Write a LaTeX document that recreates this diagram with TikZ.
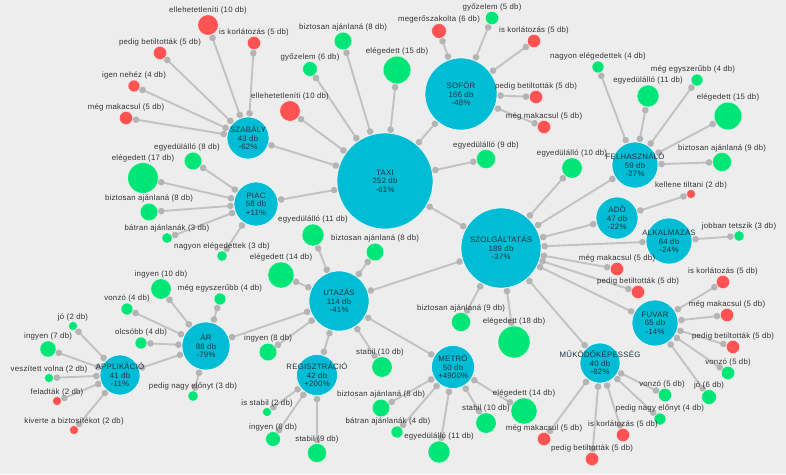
\documentclass[tikz,border=0pt]{standalone}
\usepackage{fontspec}
\setmainfont{Liberation Sans}[LetterSpace=3]
\usetikzlibrary{arrows.meta}
\definecolor{bgc}{HTML}{EDEDED}
\definecolor{cyanc}{HTML}{00BCD4}
\definecolor{greenc}{HTML}{00E676}
\definecolor{redc}{HTML}{FF5252}
\definecolor{edgec}{HTML}{C2C2C2}
\definecolor{dotc}{HTML}{B4B4B4}
\definecolor{txtc}{HTML}{333333}
\definecolor{hubtxt}{HTML}{1E3440}
\pgfdeclarelayer{bgl}
\pgfsetlayers{bgl,main}
\tikzset{
  leafn/.style={circle, inner sep=0pt, draw=white, draw opacity=0.6, line width=0.5pt},
  hubn/.style={circle, inner sep=0pt, fill=cyanc, draw=white, draw opacity=0.8, line width=0.7pt},
  hubt/.style={inner sep=0pt, align=center, text=hubtxt, font=\fontsize{7.8}{8.4}\selectfont},
  lbl/.style={inner sep=0pt, text=txtc, font=\fontsize{7.8}{8.4}\selectfont},
  lnk/.style={draw=edgec, line width=1.9pt, {Circle[length=6.5pt,width=6.5pt,color=dotc]}-{Circle[length=6.5pt,width=6.5pt,color=dotc]}}
}
\newcommand\mkleaf[7][0]{%
  \pgfmathsetmacro\rr{2*(3+0.72*#4)}%
  \node[leafn, fill=#3, minimum size=\rr pt] (#2) at (#5,#6) {};%
  \node[lbl, anchor=base] (#2t) at ([yshift=2pt,xshift=#1pt]#2.north) {#7};%
}
\newcommand\mkhub[5]{%
  \node[hubn, minimum size=#4*2pt] (#1) at (#2,#3) {};%
  \node[hubt] (#1t) at (#1) {#5};%
}
\newcommand\lk[2]{\draw[lnk] (#1) -- (#2);}
\begin{document}
\begin{tikzpicture}[x=1pt,y=-1pt]
\begin{pgfonlayer}{bgl}
\fill[bgc] (0,0) rectangle (786,474);
\end{pgfonlayer}
\useasboundingbox (0,0) rectangle (786,474);
% hubs
\mkhub{taxi}{385}{181}{48}{TAXI\\252 db\\-61\%}
\mkhub{sofor}{461}{94}{36}{SOFŐR\\166 db\\-48\%}
\mkhub{szolg}{501}{248}{40}{SZOLGÁLTATÁS\\189 db\\-37\%}
\mkhub{szabaly}{248}{138}{21}{SZABÁLY\\43 db\\-62\%}
\mkhub{piac}{256}{204}{22}{PIAC\\58 db\\+11\%}
\mkhub{utazas}{339}{301}{30}{UTAZÁS\\114 db\\-41\%}
\mkhub{ar}{206}{346}{24}{ÁR\\88 db\\-79\%}
\mkhub{appl}{120}{375}{20}{APPLIKÁCIÓ\\41 db\\-11\%}
\mkhub{regisz}{317}{375}{20.5}{REGISZTRÁCIÓ\\42 db\\+200\%}
\mkhub{metro}{453}{367}{21.5}{METRÓ\\50 db\\+4900\%}
\mkhub{mukodo}{600}{363}{20}{MŰKÖDŐKÉPESSÉG\\40 db\\-82\%}
\mkhub{fuvar}{655}{323}{23}{FUVAR\\65 db\\-14\%}
\mkhub{alk}{669}{241}{23}{ALKALMAZÁS\\64 db\\-24\%}
\mkhub{ado}{617}{218}{21}{ADÓ\\47 db\\-22\%}
\mkhub{felh}{635}{165}{23}{FELHASZNÁLÓ\\59 db\\-27\%}
% leaves: SZABÁLY
\mkleaf{l1}{redc}{10}{208}{25}{ellehetetleníti (10 db)}
\mkleaf{l2}{redc}{5}{254}{43}{is korlátozás (5 db)}
\mkleaf{l3}{redc}{5}{160}{53}{pedig betiltották (5 db)}
\mkleaf{l4}{redc}{4}{134}{86}{igen nehéz (4 db)}
\mkleaf{l5}{redc}{5}{126}{118}{még makacsul (5 db)}
% PIAC
\mkleaf[-6]{l6}{greenc}{8}{193}{161}{egyedülálló (8 db)}
\mkleaf{l7}{greenc}{17}{143}{178}{elégedett (17 db)}
\mkleaf{l8}{greenc}{8}{149}{212}{biztosan ajánlaná (8 db)}
\mkleaf{l9}{greenc}{3}{167}{238}{bátran ajánlanák (3 db)}
\mkleaf{l10}{greenc}{3}{222}{256}{nagyon elégedettek (3 db)}
% TAXI
\mkleaf{l11}{redc}{10}{290}{111}{ellehetetleníti (10 db)}
\mkleaf{l12}{greenc}{6}{310}{69}{győzelem (6 db)}
\mkleaf{l13}{greenc}{8}{343}{41}{biztosan ajánlaná (8 db)}
\mkleaf{l14}{greenc}{15}{397}{70}{elégedett (15 db)}
\mkleaf{l15}{greenc}{9}{486}{159}{egyedülálló (9 db)}
% SOFŐR
\mkleaf{l16}{redc}{6}{439}{31}{megerőszakolta (6 db)}
\mkleaf{l17}{greenc}{5}{492}{18}{győzelem (5 db)}
\mkleaf{l18}{redc}{5}{534}{41}{is korlátozás (5 db)}
\mkleaf{l19}{redc}{5}{536}{97}{pedig betiltották (5 db)}
\mkleaf{l20}{redc}{5}{544}{127}{még makacsul (5 db)}
% FELHASZNÁLÓ
\mkleaf{l21}{greenc}{4}{598}{67}{nagyon elégedettek (4 db)}
\mkleaf{l22}{greenc}{11}{648}{96}{egyedülálló (11 db)}
\mkleaf[-4]{l23}{greenc}{4}{697}{80}{még egyszerűbb (4 db)}
\mkleaf{l24}{greenc}{15}{728}{116}{elégedett (15 db)}
\mkleaf{l25}{greenc}{9}{722}{162}{biztosan ajánlaná (9 db)}
% SZOLGÁLTATÁS
\mkleaf{l26}{greenc}{10}{572}{168}{egyedülálló (10 db)}
\mkleaf{l27}{redc}{5}{617}{269}{még makacsul (5 db)}
\mkleaf{l28}{redc}{5}{638}{292}{pedig betiltották (5 db)}
\mkleaf{l29}{greenc}{18}{514}{342}{elégedett (18 db)}
\mkleaf{l30}{greenc}{9}{461}{322}{biztosan ajánlaná (9 db)}
% ADÓ, ALKALMAZÁS
\mkleaf{l31}{redc}{2}{691}{194}{kellene tiltani (2 db)}
\mkleaf{l32}{greenc}{3}{739}{236}{jobban tetszik (3 db)}
% FUVAR
\mkleaf{l33}{redc}{5}{723}{282}{is korlátozás (5 db)}
\mkleaf{l34}{redc}{5}{727}{315}{még makacsul (5 db)}
\mkleaf{l35}{redc}{5}{733}{347}{pedig betiltották (5 db)}
\mkleaf{l36}{greenc}{5}{728}{373}{vonzó (5 db)}
\mkleaf{l37}{greenc}{6}{709}{397}{jó (6 db)}
% MŰKÖDŐKÉPESSÉG
\mkleaf[-3]{l38}{greenc}{5}{665}{395}{vonzó (5 db)}
\mkleaf{l39}{greenc}{4}{660}{419}{pedig nagy előnyt (4 db)}
\mkleaf{l40}{redc}{5}{623}{435}{is korlátozás (5 db)}
\mkleaf{l41}{redc}{5}{592}{459}{pedig betiltották (5 db)}
\mkleaf{l42}{redc}{5}{544}{439}{még makacsul (5 db)}
% METRÓ
\mkleaf{l43}{greenc}{14}{524}{411}{elégedett (14 db)}
\mkleaf{l44}{greenc}{10}{486}{423}{stabil (10 db)}
\mkleaf{l45}{greenc}{11}{439}{452}{egyedülálló (11 db)}
\mkleaf[-9]{l46}{greenc}{4}{397}{432}{bátran ajánlanák (4 db)}
\mkleaf{l47}{greenc}{8}{381}{408}{biztosan ajánlaná (8 db)}
% UTAZÁS
\mkleaf{l48}{greenc}{11}{313}{235}{egyedülálló (11 db)}
\mkleaf{l49}{greenc}{8}{375}{252}{biztosan ajánlaná (8 db)}
\mkleaf{l50}{greenc}{14}{281}{275}{elégedett (14 db)}
\mkleaf{l51}{greenc}{8}{268}{352}{ingyen (8 db)}
\mkleaf[-2]{l52}{greenc}{10}{382}{367}{stabil (10 db)}
% REGISZTRÁCIÓ
\mkleaf{l53}{greenc}{2}{267}{412}{is stabil (2 db)}
\mkleaf{l54}{greenc}{6}{273}{439}{ingyen (6 db)}
\mkleaf{l55}{greenc}{9}{317}{453}{stabil (9 db)}
% ÁR
\mkleaf{l56}{greenc}{10}{161}{289}{ingyen (10 db)}
\mkleaf{l57}{greenc}{4}{220}{299}{még egyszerűbb (4 db)}
\mkleaf{l58}{greenc}{4}{127}{309}{vonzó (4 db)}
\mkleaf{l59}{greenc}{4}{141}{343}{olcsóbb (4 db)}
\mkleaf{l60}{greenc}{3}{193}{396}{pedig nagy előnyt (3 db)}
% APPLIKÁCIÓ
\mkleaf{l61}{greenc}{2}{73}{326}{jó (2 db)}
\mkleaf{l62}{greenc}{7}{48}{349}{ingyen (7 db)}
\mkleaf{l63}{greenc}{2}{49}{378}{veszített volna (2 db)}
\mkleaf{l64}{redc}{2}{57}{401}{feladták (2 db)}
\mkleaf{l65}{redc}{2}{74}{430}{kiverte a biztosítékot (2 db)}
% links
\begin{pgfonlayer}{bgl}
\lk{taxi}{sofor}\lk{taxi}{szolg}\lk{taxi}{szabaly}\lk{taxi}{piac}
\lk{szolg}{utazas}\lk{szolg}{felh}\lk{szolg}{ado}\lk{szolg}{alk}\lk{szolg}{fuvar}\lk{szolg}{mukodo}
\lk{utazas}{ar}\lk{utazas}{regisz}\lk{utazas}{metro}\lk{ar}{appl}
\foreach \l in {l1,l2,l3,l4,l5}{\lk{szabaly}{\l}}
\foreach \l in {l6,l7,l8,l9,l10}{\lk{piac}{\l}}
\foreach \l in {l11,l12,l13,l14,l15}{\lk{taxi}{\l}}
\foreach \l in {l16,l17,l18,l19,l20}{\lk{sofor}{\l}}
\foreach \l in {l21,l22,l23,l24,l25}{\lk{felh}{\l}}
\foreach \l in {l26,l27,l28,l29,l30}{\lk{szolg}{\l}}
\lk{ado}{l31}\lk{alk}{l32}
\foreach \l in {l33,l34,l35,l36,l37}{\lk{fuvar}{\l}}
\foreach \l in {l38,l39,l40,l41,l42}{\lk{mukodo}{\l}}
\foreach \l in {l43,l44,l45,l46,l47}{\lk{metro}{\l}}
\foreach \l in {l48,l49,l50,l51,l52}{\lk{utazas}{\l}}
\foreach \l in {l53,l54,l55}{\lk{regisz}{\l}}
\foreach \l in {l56,l57,l58,l59,l60}{\lk{ar}{\l}}
\foreach \l in {l61,l62,l63,l64,l65}{\lk{appl}{\l}}
\end{pgfonlayer}
\end{tikzpicture}
\end{document}
